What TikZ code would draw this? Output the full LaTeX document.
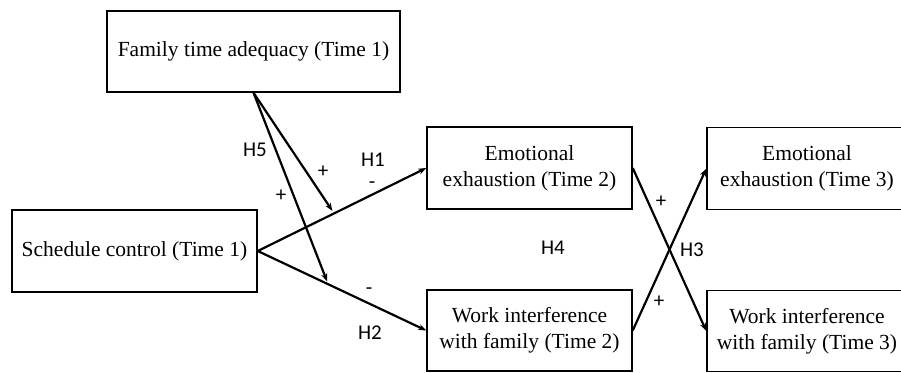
\documentclass[tikz,border=0pt]{standalone}
\usepackage{fontspec}
\setmainfont{Liberation Serif}
\newfontfamily\labfont{Carlito}
\usetikzlibrary{arrows.meta}
\begin{document}
\begin{tikzpicture}[x=1pt,y=-1pt,
  box/.style={draw, line width=1.5pt, inner sep=0pt, align=center,
    font=\fontsize{21.5}{26}\selectfont},
  lab/.style={font=\labfont\fontsize{21}{23}\selectfont, inner sep=0pt},
  arr/.style={line width=2.2pt, -{Stealth[length=8pt,width=6pt]}}]
\useasboundingbox (0,0) rectangle (901,372);
\node[box, minimum width=293pt, minimum height=81pt] (fam) at (253.5,51.5) {Family time adequacy (Time 1)};
\node[box, minimum width=245pt, minimum height=82pt] (sch) at (134.5,251) {Schedule control (Time 1)};
\node[box, minimum width=205pt, minimum height=82pt] (ee2) at (529.5,168) {Emotional\\exhaustion (Time 2)};
\node[box, minimum width=205pt, minimum height=81pt] (wf2) at (529.5,330.5) {Work interference\\with family (Time 2)};
\node[box, minimum width=200pt, minimum height=82pt] (ee3) at (807,168.5) {Emotional\\exhaustion (Time 3)};
\node[box, minimum width=200pt, minimum height=81pt] (wf3) at (807,331) {Work interference\\with family (Time 3)};
\draw[arr] (sch.east) -- coordinate[pos=0.453] (m1) (ee2.west);
\draw[arr] (sch.east) -- coordinate[pos=0.418] (m2) (wf2.west);
\draw[arr, shorten >=3pt] (fam.south) -- (m1);
\draw[arr, shorten >=3pt] (fam.south) -- (m2);
\draw[arr] (ee2.east) -- (wf3.west);
\draw[arr] (wf2.east) -- (ee3.west);
\node[lab] (h5) at (255,150) {H5};
\node[lab] (p1) at (323,172) {+};
\node[lab] (p2) at (281,196) {+};
\node[lab] (h1) at (373,160) {H1};
\node[lab] (n1) at (372,185) {-};
\node[lab] (n2) at (369,291) {-};
\node[lab] (h2) at (370,333) {H2};
\node[lab] (h4) at (553,248) {H4};
\node[lab] (h3) at (692,250) {H3};
\node[lab] (p3) at (661,202) {+};
\node[lab] (p4) at (659,302) {+};
\end{tikzpicture}
\end{document}
